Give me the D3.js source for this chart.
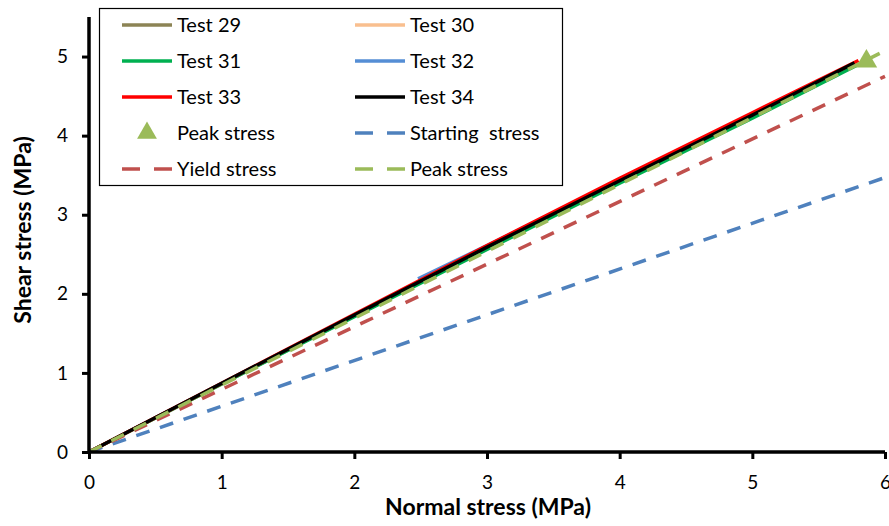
<!DOCTYPE html>
<html>
<head>
<meta charset="utf-8">
<script src="https://cdn.jsdelivr.net/npm/d3@7"></script>
<style>
  body { margin: 0; background: #fff; }
  text { font-family: Lato, "Open Sans", sans-serif; }
</style>
</head>
<body>
<div id="chart"></div>
<script>
// data: [normal stress, shear stress] in MPa
var test29 = [[0, 0], [1, 0.86], [2, 1.72], [3, 2.57], [4, 3.41], [5, 4.24], [5.75, 4.87]];
var test30 = [[0, 0], [1, 0.86], [2, 1.72], [3, 2.58], [4, 3.42], [5, 4.25], [5.78, 4.9]];
var test31 = [[0, 0], [1, 0.86], [2, 1.71], [3, 2.56], [4, 3.4], [5, 4.22], [5.8, 4.9]];
var test32 = [[2.48, 2.19], [3, 2.61], [4, 3.44], [5, 4.27]];
var test33 = [[0, 0], [1, 0.87], [2, 1.74], [3, 2.61], [4, 3.46], [5, 4.29], [5.8, 4.95]];
var test34 = [[0, 0], [1, 0.87], [2, 1.73], [3, 2.59], [4, 3.43], [5, 4.26], [5.77, 4.92]];
var peakPoint = [[5.86, 4.94]];
var startingLine = [[0, 0], [6, 3.47]];
var yieldLine = [[0, 0], [6, 4.75]];
var peakLine = [[0, 0], [5.96, 5.04]];

var xTicks = [0, 1, 2, 3, 4, 5, 6];
var yTicks = [0, 1, 2, 3, 4, 5];

var solidSeries = [
  {name: "Test 29", data: test29, color: "#8c8455"},
  {name: "Test 30", data: test30, color: "#f9bf8f"},
  {name: "Test 31", data: test31, color: "#00b050"},
  {name: "Test 32", data: test32, color: "#558ed5"},
  {name: "Test 33", data: test33, color: "#ff0000"},
  {name: "Test 34", data: test34, color: "#000000"}
];
var dashedSeries = [
  {name: "Starting  stress", data: startingLine, color: "#4f81bd"},
  {name: "Yield stress", data: yieldLine, color: "#c0504d"},
  {name: "Peak stress", data: peakLine, color: "#9bbb59"}
];

var width = 889, height = 526;
var margin = {top: 17, right: 4, bottom: 74, left: 89};

var svg = d3.select("#chart")
  .append("svg")
    .attr("width", width)
    .attr("height", height);

var x = d3.scaleLinear().domain([0, 6]).range([margin.left, 885]);
var y = d3.scaleLinear().domain([0, 5.5]).range([452, margin.top]);

var line = d3.line()
  .x(function (d) { return x(d[0]); })
  .y(function (d) { return y(d[1]); });

var plot = svg.append("g");

// solid test curves
plot.selectAll(".test")
  .data(solidSeries)
  .enter()
  .append("path")
    .attr("class", "test")
    .attr("fill", "none")
    .attr("stroke", function (d) { return d.color; })
    .attr("stroke-width", 3.5)
    .attr("d", function (d) { return line(d.data); });

// peak marker
var tri = d3.symbol().type(d3.symbolTriangle).size(200);
plot.selectAll(".peak")
  .data(peakPoint)
  .enter()
  .append("path")
    .attr("class", "peak")
    .attr("fill", "#9bbb59")
    .attr("transform", function (d) { return "translate(" + x(d[0]) + "," + y(d[1]) + ")"; })
    .attr("d", tri);

// dashed fit lines
plot.selectAll(".fit")
  .data(dashedSeries)
  .enter()
  .append("path")
    .attr("class", "fit")
    .attr("fill", "none")
    .attr("stroke", function (d) { return d.color; })
    .attr("stroke-width", 3.5)
    .attr("stroke-dasharray", "14,11")
    .attr("d", function (d) { return line(d.data); });

// axes
var xAxis = svg.append("g")
  .attr("transform", "translate(0,452)")
  .call(d3.axisBottom(x).tickValues(xTicks).tickSize(7).tickPadding(17).tickFormat(d3.format("d")));
var yAxis = svg.append("g")
  .attr("transform", "translate(89,0)")
  .call(d3.axisLeft(y).tickValues(yTicks).tickSize(7).tickPadding(14).tickFormat(d3.format("d")));

[xAxis, yAxis].forEach(function (a) {
  a.select(".domain").attr("stroke", "#000").attr("stroke-width", 3.5);
  a.selectAll(".tick line").attr("stroke", "#000").attr("stroke-width", 3);
  a.selectAll(".tick text")
    .attr("fill", "#000")
    .style("font-size", "19px")
    .style("font-family", "Lato, 'Open Sans', sans-serif");
});
// domain paths without outer tick stubs
xAxis.select(".domain").attr("d", "M" + x(0) + ",0H" + x(6));
yAxis.select(".domain").attr("d", "M0," + y(0) + "V" + y(5.5));

// axis titles
svg.append("text")
  .attr("x", 488)
  .attr("y", 515)
  .attr("text-anchor", "middle")
  .style("font-size", "23px")
  .style("font-weight", "bold")
  .text("Normal stress (MPa)");

svg.append("text")
  .attr("transform", "translate(31,230) rotate(-90)")
  .attr("text-anchor", "middle")
  .style("font-size", "23px")
  .style("font-weight", "bold")
  .text("Shear stress (MPa)");

// legend
var legend = svg.append("g");
legend.append("rect")
  .attr("x", 99.5).attr("y", 8.5)
  .attr("width", 463).attr("height", 177)
  .attr("fill", "#fff")
  .attr("stroke", "#000")
  .attr("stroke-width", 1.2);

var legendItems = [
  {name: "Test 29", color: "#8c8455", kind: "solid"},
  {name: "Test 30", color: "#f9bf8f", kind: "solid"},
  {name: "Test 31", color: "#00b050", kind: "solid"},
  {name: "Test 32", color: "#558ed5", kind: "solid"},
  {name: "Test 33", color: "#ff0000", kind: "solid"},
  {name: "Test 34", color: "#000000", kind: "solid"},
  {name: "Peak stress", color: "#9bbb59", kind: "marker"},
  {name: "Starting  stress", color: "#4f81bd", kind: "dash"},
  {name: "Yield stress", color: "#c0504d", kind: "dash"},
  {name: "Peak stress", color: "#9bbb59", kind: "dash"}
];

var colX = [122, 355];
var rowY = [25, 61, 97, 133, 169];

var item = legend.selectAll(".item")
  .data(legendItems)
  .enter()
  .append("g")
    .attr("class", "item")
    .attr("transform", function (d, i) {
      return "translate(" + colX[i % 2] + "," + rowY[Math.floor(i / 2)] + ")";
    });

item.filter(function (d) { return d.kind !== "marker"; })
  .append("line")
    .attr("x1", 0).attr("x2", 50)
    .attr("stroke", function (d) { return d.color; })
    .attr("stroke-width", 3.5)
    .attr("stroke-dasharray", function (d) { return d.kind === "dash" ? "18,14" : null; });

item.filter(function (d) { return d.kind === "marker"; })
  .append("path")
    .attr("transform", "translate(25,0)")
    .attr("fill", function (d) { return d.color; })
    .attr("d", d3.symbol().type(d3.symbolTriangle).size(170));

item.append("text")
  .attr("x", 55)
  .attr("dy", "0.35em")
  .style("font-size", "20px")
  .style("white-space", "pre")
  .attr("xml:space", "preserve")
  .text(function (d) { return d.name; });
</script>
</body>
</html>
